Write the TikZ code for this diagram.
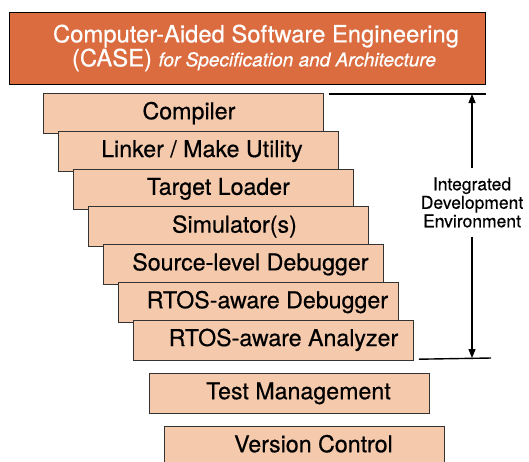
\documentclass[tikz,border=0pt]{standalone}
\usepackage{fontspec}
\setmainfont{TeX Gyre Heros}[FakeBold=0.5]
\usetikzlibrary{arrows.meta}
\definecolor{caseorange}{HTML}{DA6C3F}
\definecolor{peach}{HTML}{F5C9AB}
\begin{document}
\begin{tikzpicture}[x=1pt,y=1pt,
  stepbox/.style={draw=black!80, line width=0.9pt, fill=peach, minimum width=280pt,
    minimum height=40pt, anchor=north west, inner sep=0pt, text height=16.5pt, text depth=5pt,
    font=\fontsize{23.2}{26}\selectfont},
  bannerbox/.style={draw=black, line width=0.9pt, fill=caseorange, minimum width=476pt,
    minimum height=72pt, inner sep=0pt, text=white, align=center,
    font=\fontsize{23.8}{21}\selectfont},
  idelabel/.style={align=center, inner xsep=0pt, inner ysep=9pt, font=\fontsize{17.5}{18.5}\selectfont},
  rule/.style={line width=1.4pt},
  dimarrow/.style={line width=1.2pt, -{Triangle[length=9pt,width=7pt]}}
]
\clip (0,0) rectangle (529,-461);
\fill[white] (0,0) rectangle (529,-461);

\node[bannerbox] (case) at (247,-48)
  {\hspace*{18pt}Computer-Aided Software Engineering\\
   \hspace*{14pt}(CASE) {\itshape\fontsize{19}{21}\selectfont for Specification and Architecture}};

\node[stepbox] (b1) at (43,-93)    {\kern11pt Compiler};
\node[stepbox] (b2) at (58,-130.8) {\kern7pt Linker / Make Utility};
\node[stepbox] (b3) at (73,-168.6) {\kern10pt Target Loader};
\node[stepbox] (b4) at (88,-206.4) {\kern12pt Simulator(s)};
\node[stepbox] (b5) at (103,-244.2){\kern14pt Source-level Debugger};
\node[stepbox] (b6) at (118,-282)  {\kern18pt RTOS-aware Debugger};
\node[stepbox] (b7) at (133,-319.8){\kern20pt RTOS-aware Analyzer};
\node[stepbox] (b8) at (149,-373)  {\kern18pt Test Management};
\node[stepbox] (b9) at (164,-426)  {\kern18pt Version Control};

\coordinate (topR) at (486,-94);
\coordinate (botR) at (491,-358);
\coordinate (atop) at (472,-94);
\coordinate (abot) at (472,-358);

\draw[rule] ([xshift=5pt,yshift=-1pt]b1.north east) -- (topR);
\draw[rule] ([xshift=5pt,yshift=1.5pt]b7.south east) -- (botR);

\node[idelabel] (ide) at (472,-202.5) {Integrated\\Development\\Environment};
\draw[dimarrow] (ide.north) -- (atop);
\draw[dimarrow] (ide.south) -- (abot);
\end{tikzpicture}
\end{document}
